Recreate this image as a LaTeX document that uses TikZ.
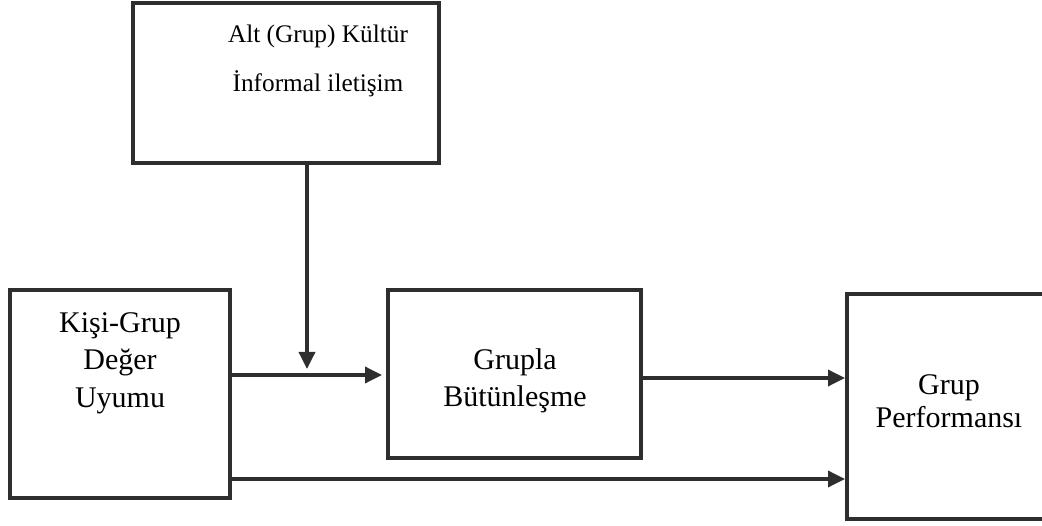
\documentclass[tikz,border=0pt]{standalone}
\usepackage{fontspec}
\setmainfont{Liberation Serif}
\usetikzlibrary{arrows.meta}
\definecolor{ink}{HTML}{2E2E2E}
\begin{document}
\begin{tikzpicture}[x=1pt,y=-1pt,
  box/.style={draw=ink, line width=3.5pt, fill=white, minimum width=#1, inner sep=0pt, outer sep=0pt},
  lbl/.style={anchor=base, inner sep=0pt, font=\fontsize{30}{36}\selectfont},
  toplbl/.style={anchor=base, inner sep=0pt, font=\fontsize{25.3}{30}\selectfont},
  arr/.style={draw=ink, line width=3.5pt, -{Triangle[length=17pt,width=16pt]}}]
\useasboundingbox (0,0) rectangle (1042,526);
% boxes
\node[box=306pt, minimum height=160pt] (top) at (286,83) {};
\node[box=220pt, minimum height=208pt] (left) at (120,394) {};
\node[box=253pt, minimum height=168pt] (mid) at (514.5,374) {};
\node[box=223pt, minimum height=225pt] (right) at (958.5,406.5) {};
% texts
\node[toplbl] (t1) at (318,43) {Alt (Grup) Kültür};
\node[toplbl] (t2) at (318,92) {İnformal iletişim};
\node[lbl] (l1) at (120,333) {Kişi-Grup};
\node[lbl] (l2) at (120,370) {Değer};
\node[lbl] (l3) at (120,408) {Uyumu};
\node[lbl] (m1) at (515,370) {Grupla};
\node[lbl] (m2) at (515,407) {Bütünleşme};
\node[lbl] (r1) at (949,395) {Grup};
\node[lbl] (r2) at (949,428) {Performansı};
% helper coordinates
\coordinate (vx) at (307,0);
\coordinate (yA) at (0,375);
\coordinate (yJ) at (0,369);
\coordinate (yB) at (0,378);
\coordinate (yC) at (0,479);
\coordinate (tipA) at (382,375);
\coordinate (tipR) at (845,0);
% connectors
\draw[arr] (top.south -| vx) -- (vx |- yJ);
\draw[arr] (left.east |- yA) -- (tipA);
\draw[arr] (mid.east |- yB) -- (tipR |- yB);
\draw[arr] (left.east |- yC) -- (tipR |- yC);
\end{tikzpicture}
\end{document}
